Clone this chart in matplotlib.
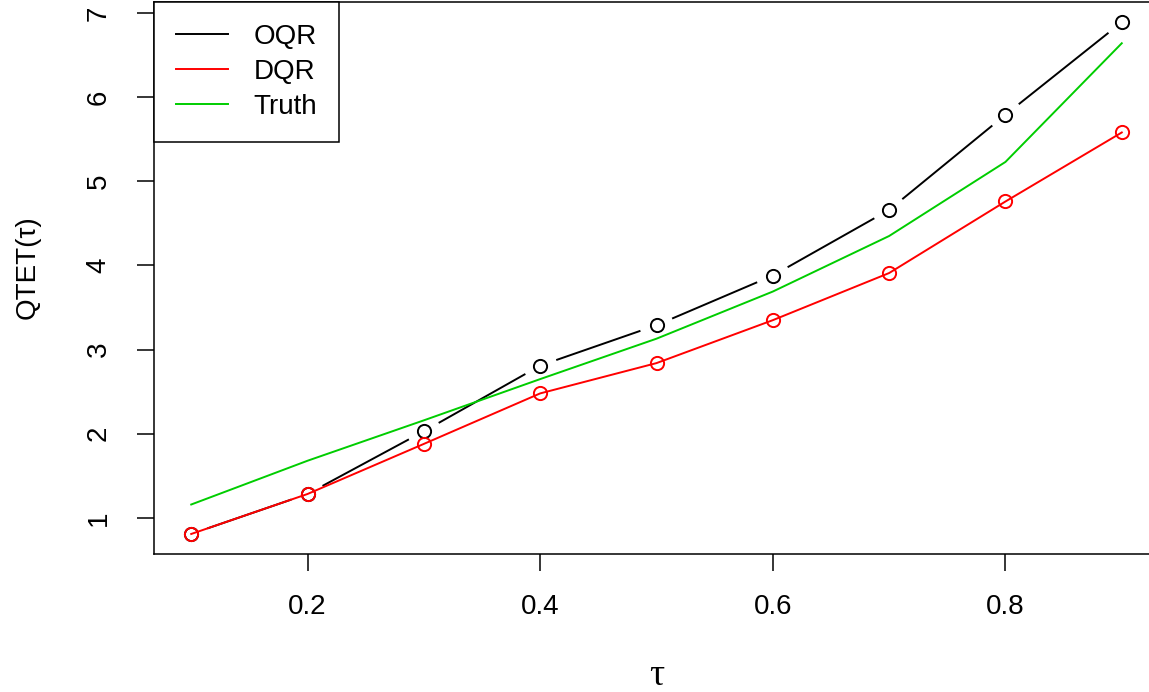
import numpy as np
import matplotlib.pyplot as plt

tau = [0.1, 0.2, 0.3, 0.4, 0.5, 0.6, 0.7, 0.8, 0.9]
oqr = [0.81, 1.285, 2.03, 2.81, 3.29, 3.88, 4.66, 5.79, 6.89]
dqr = [0.81, 1.285, 1.88, 2.48, 2.84, 3.35, 3.91, 4.76, 5.58]
truth = [1.16, 1.68, 2.16, 2.65, 3.13, 3.69, 4.35, 5.23, 6.64]

x_ticks = [0.2, 0.4, 0.6, 0.8]
y_ticks = [1, 2, 3, 4, 5, 6, 7]

plt.rcParams['font.family'] = ['Liberation Sans', 'DejaVu Sans']
plt.rcParams['font.size'] = 20

fig = plt.figure(figsize=(11.49, 6.92), dpi=100)
# the R plot region runs off the right/top edge of the image
ax = fig.add_axes([154 / 1149, 138 / 692, 1005 / 1149, 552 / 692])
ax.set_xlim(0.068, 0.932)
ax.set_ylim(0.572, 7.13)

lw = 1.4
ms = 9.5

# OQR drawn R type="b": segments stop short of the circles
fig.canvas.draw()
pts = ax.transData.transform(np.column_stack([tau, oqr]))
gap = 17
inv = ax.transData.inverted()
for p0, p1 in zip(pts[:-1], pts[1:]):
    d = p1 - p0
    n = np.hypot(*d)
    if n <= 2 * gap:
        continue
    u = d / n
    a, b = inv.transform([p0 + u * gap, p1 - u * gap])
    ax.plot([a[0], b[0]], [a[1], b[1]], color='black', lw=lw, solid_capstyle='butt')
ax.plot(tau, oqr, ls='none', marker='o', ms=ms, mfc='none', mec='black', mew=lw)

ax.plot(tau, dqr, color='#ff0000', lw=lw, marker='o', ms=ms, mfc='none', mew=lw)
ax.plot(tau, truth, color='#00cd00', lw=lw)

for s in ax.spines.values():
    s.set_linewidth(1.1)

ax.set_xticks(x_ticks)
ax.set_xticklabels([f'{v:.1f}' for v in x_ticks])
ax.set_yticks(y_ticks)
ax.set_yticklabels([str(v) for v in y_ticks], rotation=90, va='center')
ax.tick_params(length=12.5, width=1.1, pad=16)
ax.tick_params(axis='y', pad=18)

ax.set_xlabel('τ', family=['Liberation Serif', 'DejaVu Serif'], fontsize=27)
ax.xaxis.set_label_coords(0.5, -0.19)
ax.set_ylabel('QTET(τ)')
ax.yaxis.set_label_coords(-0.113, 0.52)

h = [plt.Line2D([], [], color=c, lw=lw) for c in ['black', '#ff0000', '#00cd00']]
leg = ax.legend(h, ['OQR', 'DQR', 'Truth'], loc='upper left', borderaxespad=0,
                fancybox=False, edgecolor='black', framealpha=1,
                handlelength=1.9, handletextpad=0.9, labelspacing=0.33,
                borderpad=0.78)
leg.get_frame().set_linewidth(1.1)

fig.savefig('out.png', dpi=100)
